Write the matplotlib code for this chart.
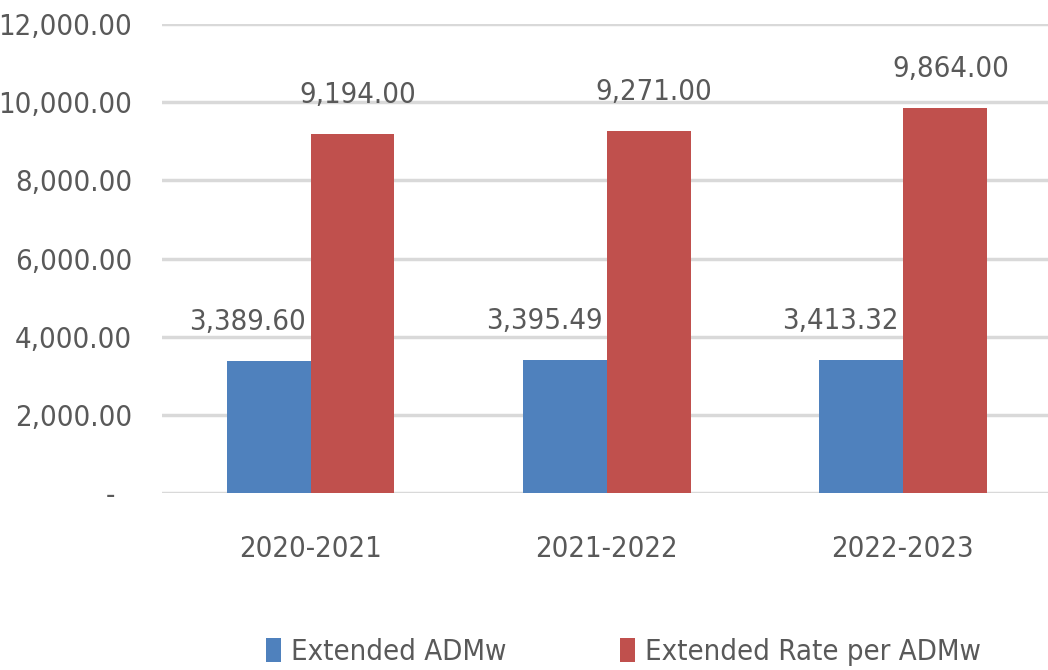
import matplotlib.pyplot as plt
import numpy as np
from matplotlib.ticker import FuncFormatter

# chart data
periods = ["2020-2021", "2021-2022", "2022-2023"]
extended_admw = [3389.60, 3395.49, 3413.32]
extended_rate = [9194.00, 9271.00, 9864.00]
series_names = ["Extended ADMw", "Extended Rate per ADMw"]
y_ticks = [0, 2000, 4000, 6000, 8000, 10000, 12000]

blue = "#4F81BD"
red = "#C0504D"
text_gray = "#595959"

plt.rcParams['font.family'] = ['DejaVu Sans']
plt.rcParams['font.stretch'] = 'condensed'


def fmt_tick(v, pos):
    # zero is shown as a dash, like the Excel accounting format
    if v == 0:
        return "-  "
    return "{:,.2f}".format(v)


fig = plt.figure(figsize=(10.48, 6.7), dpi=100)
ax = fig.add_axes([0.155, 0.264, 0.845, 0.700])

x = np.arange(len(periods))
width = 0.283
bars1 = ax.bar(x - width / 2, extended_admw, width, color=blue, label=series_names[0], zorder=3)
bars2 = ax.bar(x + width / 2, extended_rate, width, color=red, label=series_names[1], zorder=3)

ax.set_ylim(0, 12000)
ax.set_xlim(-0.5, 2.49)
ax.set_yticks(y_ticks)
ax.yaxis.set_major_formatter(FuncFormatter(fmt_tick))
ax.set_xticks(x)
ax.set_xticklabels(periods)

ax.grid(axis='y', color="#D9D9D9", linewidth=2.5, zorder=0)
for s in ax.spines.values():
    s.set_visible(False)
ax.tick_params(axis='both', length=0, colors=text_gray, labelsize=21)
ax.tick_params(axis='y', pad=22)
ax.tick_params(axis='x', pad=30)

# value labels above bars (blue ones sit a bit to the left, like Excel placed them)
for bars, dx in ((bars1, -15), (bars2, 4)):
    for b in bars:
        ax.annotate("{:,.2f}".format(b.get_height()),
                    (b.get_x() + b.get_width() / 2, b.get_height()),
                    xytext=(dx, 18), textcoords='offset points',
                    ha='center', va='bottom', fontsize=21, color=text_gray)

fig.legend(handles=[bars1, bars2], loc='center', bbox_to_anchor=(0.595, 0.027),
           ncol=2, frameon=False, fontsize=21, labelcolor=text_gray,
           handlelength=0.5, handleheight=0.9, handletextpad=0.35, columnspacing=3.9)

fig.savefig("out.png", dpi=100)
